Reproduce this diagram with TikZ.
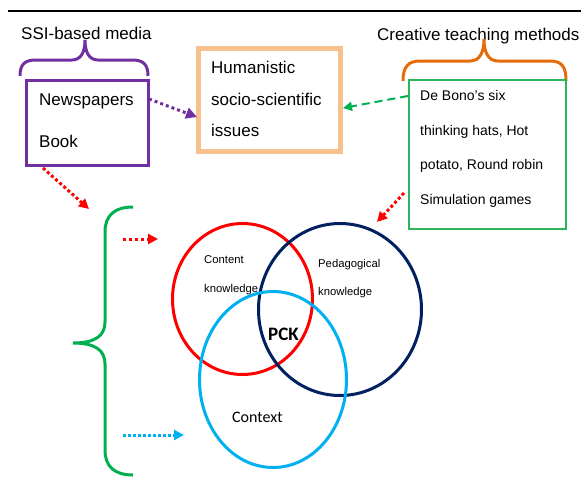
\documentclass[tikz,border=0pt]{standalone}
\usepackage{fontspec}
\setmainfont{Liberation Sans}
\newfontfamily\calibri{Carlito}
\usetikzlibrary{arrows.meta,shapes.geometric}
\definecolor{cpurple}{HTML}{7030A0}
\definecolor{corangebox}{HTML}{F9C08F}
\definecolor{corange}{HTML}{E46C0A}
\definecolor{cgreen}{HTML}{00B050}
\definecolor{cgreenbox}{HTML}{2DB35A}
\definecolor{cred}{HTML}{FF0000}
\definecolor{cnavy}{HTML}{002060}
\definecolor{cblue}{HTML}{00B0F0}
\tikzset{
  big/.style={anchor=base west,inner sep=0,font=\fontsize{17}{20}\selectfont},
  mid/.style={anchor=base west,inner sep=0,font=\fontsize{14}{17}\selectfont},
  small/.style={anchor=base west,inner sep=0,font=\fontsize{11.3}{13}\selectfont},
  box/.style={draw,rectangle,inner sep=0},
  ring/.style={draw,ellipse,inner sep=0,line width=3pt},
  tip/.style={-{Triangle[length=#1,width=#1]}},
  brace/.style={line width=3pt,line cap=butt}
}
\begin{document}
\begin{tikzpicture}[x=1pt,y=-1pt]
\useasboundingbox (0,0) rectangle (581,477);
\draw[line width=1.2pt] (8,11) -- (581,11);

% labels
\node[big] (lblmedia) at (21,39) {SSI-based media};
\node[big] (lblcreative) at (377,40) {Creative teaching methods};

% braces
\draw[brace,cpurple] (20,76) .. controls (20,64) and (25,60) .. (36,60) -- (72,60)
  .. controls (81,60) and (85,52) .. (85,40) .. controls (85,52) and (89,60) .. (98,60)
  -- (132,60) .. controls (143,60) and (148,64) .. (148,76);
\draw[brace,corange] (403,81) .. controls (403,67) and (408,61) .. (420,61) -- (470,61)
  .. controls (480,61) and (484,52) .. (484,39) .. controls (484,52) and (488,61) .. (498,61)
  -- (550,61) .. controls (562,61) and (566,67) .. (566,81);
\draw[brace,cgreen] (133,207) .. controls (115,207) and (105,215) .. (105,232) -- (105,322)
  .. controls (105,336) and (95,343) .. (73,343) .. controls (95,343) and (105,350) .. (105,364)
  -- (105,450) .. controls (105,467) and (115,475) .. (133,475);

% boxes
\node[box,cpurple,line width=3pt,minimum width=122pt,minimum height=85pt] (media) at (87,122.5) {};
\node[big] (t1) at (39,105) {Newspapers};
\node[big] (t2) at (39,147) {Book};

\node[box,corangebox,line width=4.5pt,minimum width=142pt,minimum height=103pt] (issues) at (269.5,100) {};
\node[big] (t3) at (211,73) {Humanistic};
\node[big] (t4) at (211,105) {socio-scientific};
\node[big] (t5) at (211,136) {issues};

\node[box,cgreenbox,line width=1.8pt,minimum width=157pt,minimum height=149pt] (methods) at (487.5,154.5) {};
\node[mid] (t6) at (420,100) {De Bono’s six};
\node[mid] (t7) at (420,135) {thinking hats, Hot};
\node[mid] (t8) at (420,169) {potato, Round robin};
\node[mid] (t9) at (420,204) {Simulation games};

% circles
\node[ring,cred,minimum width=140pt,minimum height=151pt] (ck) at (242.5,299) {};
\node[ring,cnavy,minimum width=163pt,minimum height=172pt] (pk) at (340,309.5) {};
\node[ring,cblue,minimum width=147pt,minimum height=176pt] (ctx) at (273,379.5) {};
\node[small] (t10) at (204,263) {Content};
\node[small] (t11) at (204,292) {knowledge};
\node[small] (t12) at (318,267) {Pedagogical};
\node[small] (t13) at (318,295) {knowledge};
\node[anchor=base west,inner sep=0,font=\calibri\bfseries\fontsize{19}{22}\selectfont] (pck) at (268,340) {PCK};
\node[anchor=base west,inner sep=0,font=\calibri\fontsize{16}{19}\selectfont] (context) at (232,422) {Context};

% connector end points
\coordinate (a1s) at (149,99);
\coordinate (a1e) at (197,117);
\coordinate (a2s) at (408,96);
\coordinate (a2e) at (343,108);
\coordinate (a3s) at (404,193);
\coordinate (a3e) at (377,222);
\coordinate (a4s) at (43,168);
\coordinate (a4e) at (89,209);
\coordinate (a5s) at (123,239);
\coordinate (a5e) at (158,239);
\coordinate (a6s) at (123,435);
\coordinate (a6e) at (184,435);

\draw[cpurple,line width=3pt,dash pattern=on 3pt off 3pt,tip=11pt] (a1s) -- (a1e);
\draw[cgreen,line width=2pt,dash pattern=on 8pt off 5pt,tip=9pt] (a2s) -- (a2e);
\draw[cred,line width=3pt,dash pattern=on 3pt off 2.5pt,tip=10pt] (a3s) -- (a3e);
\draw[cred,line width=3pt,dash pattern=on 3pt off 2.5pt,tip=10pt] (a4s) -- (a4e);
\draw[cred,line width=3pt,dash pattern=on 3pt off 3pt,tip=10pt] (a5s) -- (a5e);
\draw[cblue,line width=3pt,dash pattern=on 3pt off 2pt,tip=10pt] (a6s) -- (a6e);
\end{tikzpicture}
\end{document}
